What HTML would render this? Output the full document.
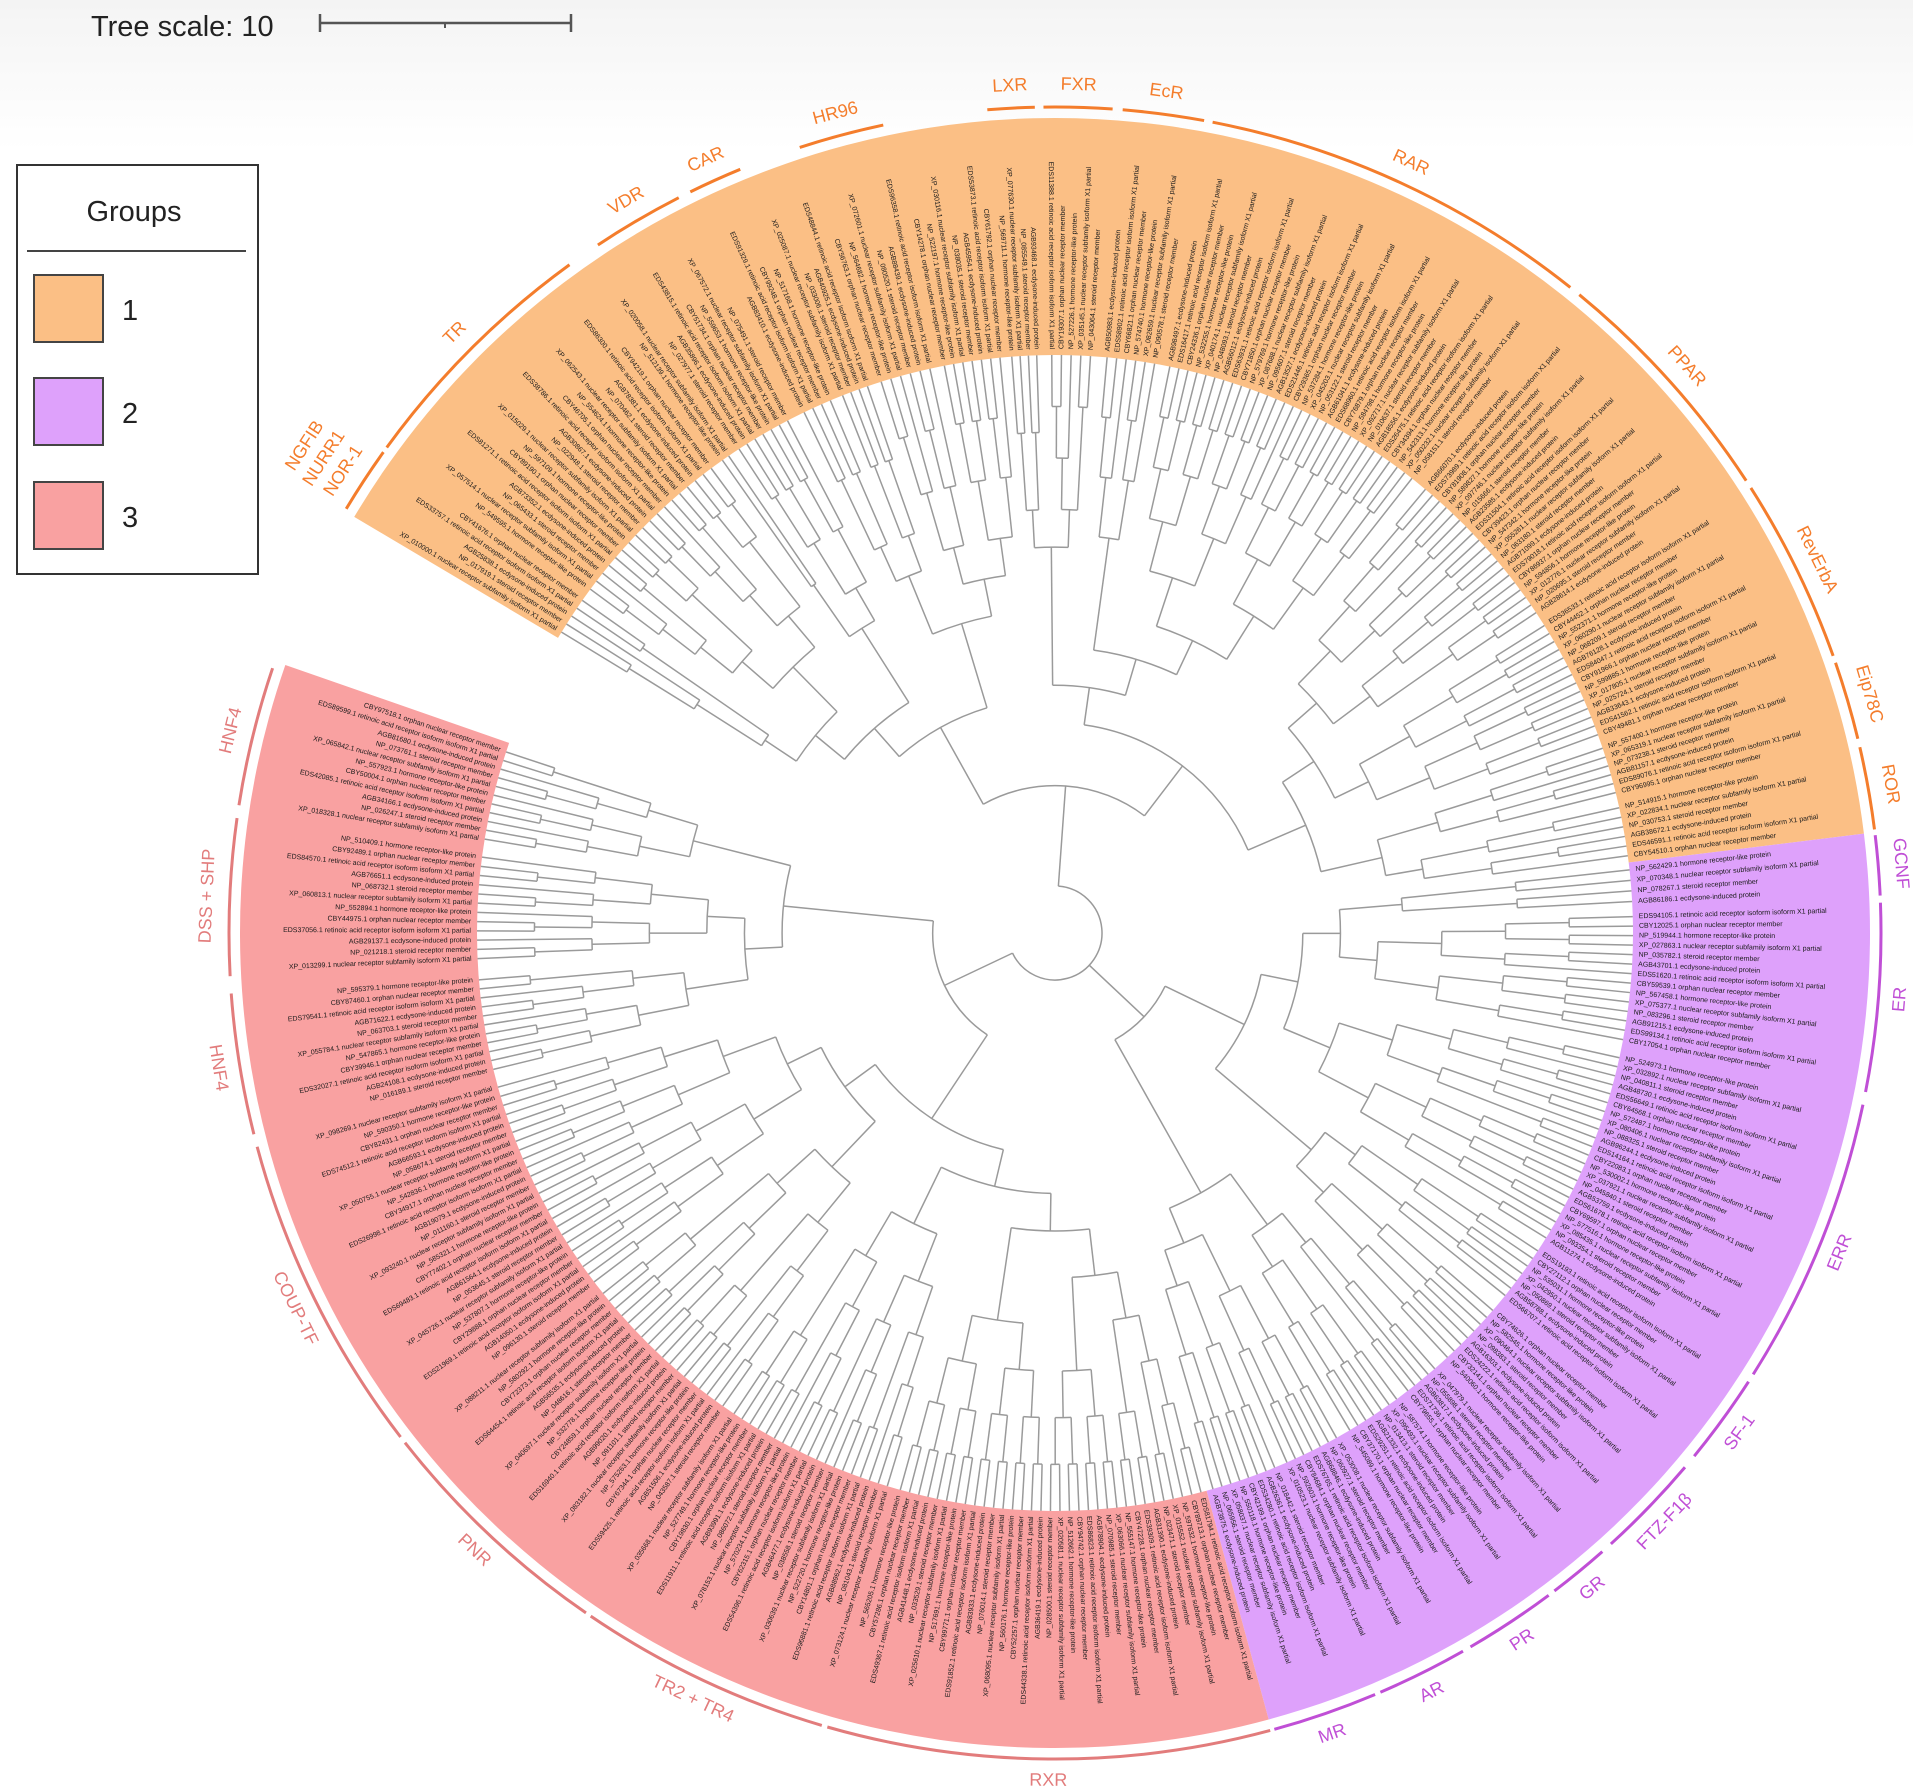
<!DOCTYPE html>
<html><head><meta charset="utf-8"><title>Circular phylogenetic tree of nuclear receptors</title>
<style>
html,body{margin:0;padding:0;background:#fff;}
svg{display:block;font-family:"Liberation Sans",sans-serif;}
</style></head>
<body>
<svg id="chart" width="1913" height="1790" viewBox="0 0 1913 1790" xmlns="http://www.w3.org/2000/svg">
<defs>
<linearGradient id="topfade" x1="0" y1="0" x2="0" y2="1">
<stop offset="0" stop-color="#f4f4f4"/><stop offset="1" stop-color="#ffffff"/>
</linearGradient>
</defs>
<rect x="0" y="0" width="1913" height="150" fill="url(#topfade)"/>
<g>
<text x="91" y="36" font-size="29" fill="#222">Tree scale: 10</text>
<line x1="320" y1="23" x2="571" y2="23" stroke="#555" stroke-width="2.5"/>
<line x1="320" y1="14" x2="320" y2="32" stroke="#555" stroke-width="2.5"/>
<line x1="571" y1="14" x2="571" y2="32" stroke="#555" stroke-width="2.5"/>
<line x1="445" y1="23" x2="445" y2="28" stroke="#555" stroke-width="2"/>
</g>
<g>
<rect x="17" y="165" width="241" height="409" fill="#fff" stroke="#333" stroke-width="2"/>
<text x="134" y="221" font-size="29" text-anchor="middle" fill="#222">Groups</text>
<line x1="27" y1="251" x2="246" y2="251" stroke="#444" stroke-width="2"/>
<g><rect x="34" y="275" width="69" height="67" fill="#fbbf85" stroke="#444" stroke-width="2"/><text x="122" y="320" font-size="29" fill="#222">1</text></g>
<g><rect x="34" y="378" width="69" height="67" fill="#dea1fb" stroke="#444" stroke-width="2"/><text x="122" y="423" font-size="29" fill="#222">2</text></g>
<g><rect x="34" y="482" width="69" height="67" fill="#f9a1a1" stroke="#444" stroke-width="2"/><text x="122" y="527" font-size="29" fill="#222">3</text></g>
</g>
<g id="bands"></g>
<g id="branches"></g>
<g id="leaves"></g>
<g id="clades"></g>
</svg>
<script>
// ---- data ----
const groupNames = ["1", "2", "3"];
const groupStart = [210.7, 353.0, 434.8];
const groupEnd = [353.0, 434.8, 559.2];
const groupDist = [4, 3, 3];
const cladeNames = ["NR4A", "TR", "", "VDR", "CAR", "", "HR96", "", "LXR", "FXR", "EcR", "RAR", "PPAR", "RevErbA", "Eip78C", "ROR",
  "GCNF", "ER", "ERR", "SF-1", "FTZ-F1β", "GR", "PR", "AR", "MR",
  "RXR", "TR2 + TR4", "PNR", "COUP-TF", "HNF4", "DSS + SHP", "HNF4"];
const cladeGroup = [0,0,0,0,0,0,0,0,0,0,0,0,0,0,0,0, 1,1,1,1,1,1,1,1,1, 2,2,2,2,2,2,2];
const cladeStart = [210.9, 216, 234.5, 236.4, 243.8, 248, 252, 258.5, 265.3, 269.2, 274.7, 281, 309.4, 327.4, 340.9, 347,
  353.2, 357.9, 372, 392.9, 400.3, 408.5, 413.3, 420.4, 427.2,
  434.9, 466.4, 484.6, 502.4, 525.9, 537, 548.9];
const cladeEnd = [215.6, 234, 236, 242.9, 247.6, 251.5, 258, 265, 268.6, 274, 280.4, 308.6, 326.8, 340.4, 346.4, 352.8,
  357.4, 371.1, 392.3, 399.3, 407.7, 412.8, 419.8, 426.8, 434.6,
  466, 484.2, 501.9, 525, 535.8, 548, 558.7];
const cladeLeaves = [5, 18, 2, 7, 4, 4, 6, 7, 4, 5, 6, 30, 19, 14, 6, 6,
  4, 14, 22, 7, 8, 5, 7, 7, 8,
  33, 19, 18, 24, 11, 12, 11];
const cladeRootDist = [12, 13, 15, 14, 15, 15, 14, 14, 15, 15, 14, 11, 12, 12, 14, 13,
  12, 11, 10, 13, 13, 14, 14, 14, 13,
  10, 11, 11, 10, 13, 12, 13];
const leafNameParts = ["XP_0", "NP_0", "AGB", "EDS", "CBY", "NP_5"];
const speciesParts = ["nuclear receptor subfamily", "hormone receptor-like protein", "orphan nuclear receptor", "retinoic acid receptor isoform", "ecdysone-induced protein", "steroid receptor"];

// ---- geometry ----
const svgNS = "http://www.w3.org/2000/svg";
const CX = 1055, CY = 933;
const R0 = 47, PX_PER_UNIT = 25.1;
const BAND_IN = 578, BAND_OUT = 815, ARC_R = 826, LABEL_R = 848;
const LEAF_DIST = (BAND_IN - R0) / PX_PER_UNIT;
const groupFill = ["#fbbf85", "#dea1fb", "#f9a1a1"];
const groupLine = ["#f47d2c", "#c04fd6", "#e27c7c"];
function rOf(d) { return R0 + d * PX_PER_UNIT; }
function pt(a, r) { const t = a * Math.PI / 180; return [CX + r * Math.cos(t), CY + r * Math.sin(t)]; }
function arcPath(a0, a1, r) {
  const p0 = pt(a0, r), p1 = pt(a1, r);
  const large = (a1 - a0) > 180 ? 1 : 0;
  return "M" + p0[0].toFixed(2) + " " + p0[1].toFixed(2) + " A" + r + " " + r + " 0 " + large + " 1 " + p1[0].toFixed(2) + " " + p1[1].toFixed(2);
}
function mk(tag, parent) { const e = document.createElementNS(svgNS, tag); parent.appendChild(e); return e; }

// bands
const bands = document.getElementById("bands");
for (let g = 0; g < groupNames.length; g++) {
  const a0 = groupStart[g], a1 = groupEnd[g];
  const o0 = pt(a0, BAND_OUT), o1 = pt(a1, BAND_OUT), i1 = pt(a1, BAND_IN), i0 = pt(a0, BAND_IN);
  const large = (a1 - a0) > 180 ? 1 : 0;
  const d = "M" + o0 + " A" + BAND_OUT + " " + BAND_OUT + " 0 " + large + " 1 " + o1 + " L" + i1 + " A" + BAND_IN + " " + BAND_IN + " 0 " + large + " 0 " + i0 + " Z";
  const p = mk("path", bands);
  p.setAttribute("d", d.replace(/,/g, " "));
  p.setAttribute("fill", groupFill[g]);
  
  
}

// build tree
function balanced(items) {
  if (items.length === 1) return items[0];
  const m = Math.ceil(items.length / 2);
  return { children: [balanced(items.slice(0, m)), balanced(items.slice(m))] };
}
function height(n) { if (!n.children) { n.h = 0; return 0; } n.h = 1 + Math.max(...n.children.map(height)); return n.h; }
function setAngle(n) { if (!n.children) return n.angle; n.children.forEach(setAngle); n.angle = (n.children[0].angle + n.children[n.children.length - 1].angle) / 2; return n.angle; }

let leafIndex = 0;
const allLeaves = [];
const groupRoots = [];
for (let g = 0; g < groupNames.length; g++) {
  const cladeRoots = [];
  for (let c = 0; c < cladeNames.length; c++) {
    if (cladeGroup[c] !== g) continue;
    const n = cladeLeaves[c], step = (cladeEnd[c] - cladeStart[c]) / n;
    const leaves = [];
    for (let i = 0; i < n; i++) {
      const lf = { angle: cladeStart[c] + step * (i + 0.5), dist: LEAF_DIST, idx: leafIndex++, group: g };
      leaves.push(lf); allLeaves.push(lf);
    }
    const root = balanced(leaves);
    const H = height(root);
    (function assign(nd) {
      if (!nd.children) return;
      nd.dist = H ? LEAF_DIST - nd.h * (LEAF_DIST - cladeRootDist[c]) / H : LEAF_DIST;
      nd.children.forEach(assign);
    })(root);
    if (!root.children) root.dist = LEAF_DIST;
    cladeRoots.push(root);
  }
  const gRoot = balanced(cladeRoots);
  (function assignJ(nd) {
    if (nd.dist !== undefined) return nd.dist;
    const m = Math.min(...nd.children.map(assignJ));
    nd.dist = Math.max(groupDist[g] + 0.5, m - 1.5);
    return nd.dist;
  })(gRoot);
  gRoot.dist = groupDist[g];
  setAngle(gRoot);
  groupRoots.push(gRoot);
}
const treeRoot = { children: groupRoots, dist: 0 };
setAngle(treeRoot);

// draw branches
const brG = document.getElementById("branches");
function drawNode(nd, parentR) {
  const r = rOf(nd.dist);
  if (parentR !== null) {
    const p0 = pt(nd.angle, parentR), p1 = pt(nd.angle, r);
    const l = mk("line", brG);
    l.setAttribute("x1", p0[0].toFixed(2)); l.setAttribute("y1", p0[1].toFixed(2));
    l.setAttribute("x2", p1[0].toFixed(2)); l.setAttribute("y2", p1[1].toFixed(2));
    l.setAttribute("stroke", "#9a9a9a"); l.setAttribute("stroke-width", "1.5");
    
    
  }
  if (nd.children) {
    const a0 = nd.children[0].angle, a1 = nd.children[nd.children.length - 1].angle;
    const p = mk("path", brG);
    p.setAttribute("d", arcPath(a0, a1, r));
    p.setAttribute("fill", "none"); p.setAttribute("stroke", "#9a9a9a"); p.setAttribute("stroke-width", "1.5");
    
    
    nd.children.forEach(ch => drawNode(ch, r));
  }
}
drawNode(treeRoot, null);

// leaf labels
const lfG = document.getElementById("leaves");
allLeaves.forEach(lf => {
  const a = lf.angle, am = ((a % 360) + 360) % 360;
  const right = Math.cos(am * Math.PI / 180) > 0;
  const p = pt(a, BAND_IN + 6);
  const t = mk("text", lfG);
  const k = lf.idx;
  t.textContent = leafNameParts[k % 6] + (10000 + (k * 7919) % 89999) + ".1 " + speciesParts[(k * 5) % 6] + (k % 3 === 0 ? " isoform X1 partial" : (k % 3 === 1 ? " member" : ""));
  t.setAttribute("x", p[0].toFixed(2)); t.setAttribute("y", p[1].toFixed(2));
  t.setAttribute("font-size", "7"); t.setAttribute("fill", "#1a1a1a");
  t.setAttribute("dominant-baseline", "middle");
  t.setAttribute("text-anchor", right ? "start" : "end");
  t.setAttribute("transform", "rotate(" + (right ? am : am + 180).toFixed(2) + " " + p[0].toFixed(2) + " " + p[1].toFixed(2) + ")");
  
  
});

// clade annotations
const clG = document.getElementById("clades");
for (let c = 0; c < cladeNames.length; c++) {
  if (!cladeNames[c]) continue;
  const g = cladeGroup[c];
  const p = mk("path", clG);
  p.setAttribute("d", arcPath(cladeStart[c], cladeEnd[c], ARC_R));
  p.setAttribute("fill", "none"); p.setAttribute("stroke", groupLine[g]); p.setAttribute("stroke-width", "3");
  
  
  const mid = (cladeStart[c] + cladeEnd[c]) / 2, am = ((mid % 360) + 360) % 360;
  const rot = (am > 0 && am < 180) ? am - 90 : am + 90;
  const labels = cladeNames[c] === "NR4A" ? ["NOR-1", "NURR1", "NGFIB"] : [cladeNames[c]];
  labels.forEach((lab, i) => {
    const q = pt(cladeNames[c] === "NR4A" ? 213 : mid, LABEL_R + i * 23);
    const t = mk("text", clG);
    t.textContent = lab;
    t.setAttribute("x", q[0].toFixed(2)); t.setAttribute("y", q[1].toFixed(2));
    t.setAttribute("font-size", "18"); t.setAttribute("fill", groupLine[g]);
    t.setAttribute("text-anchor", "middle"); t.setAttribute("dominant-baseline", "middle");
    t.setAttribute("transform", "rotate(" + (cladeNames[c] === "NR4A" ? 303 : rot).toFixed(2) + " " + q[0].toFixed(2) + " " + q[1].toFixed(2) + ")");
    
    
  });
}
</script>
</body></html>
